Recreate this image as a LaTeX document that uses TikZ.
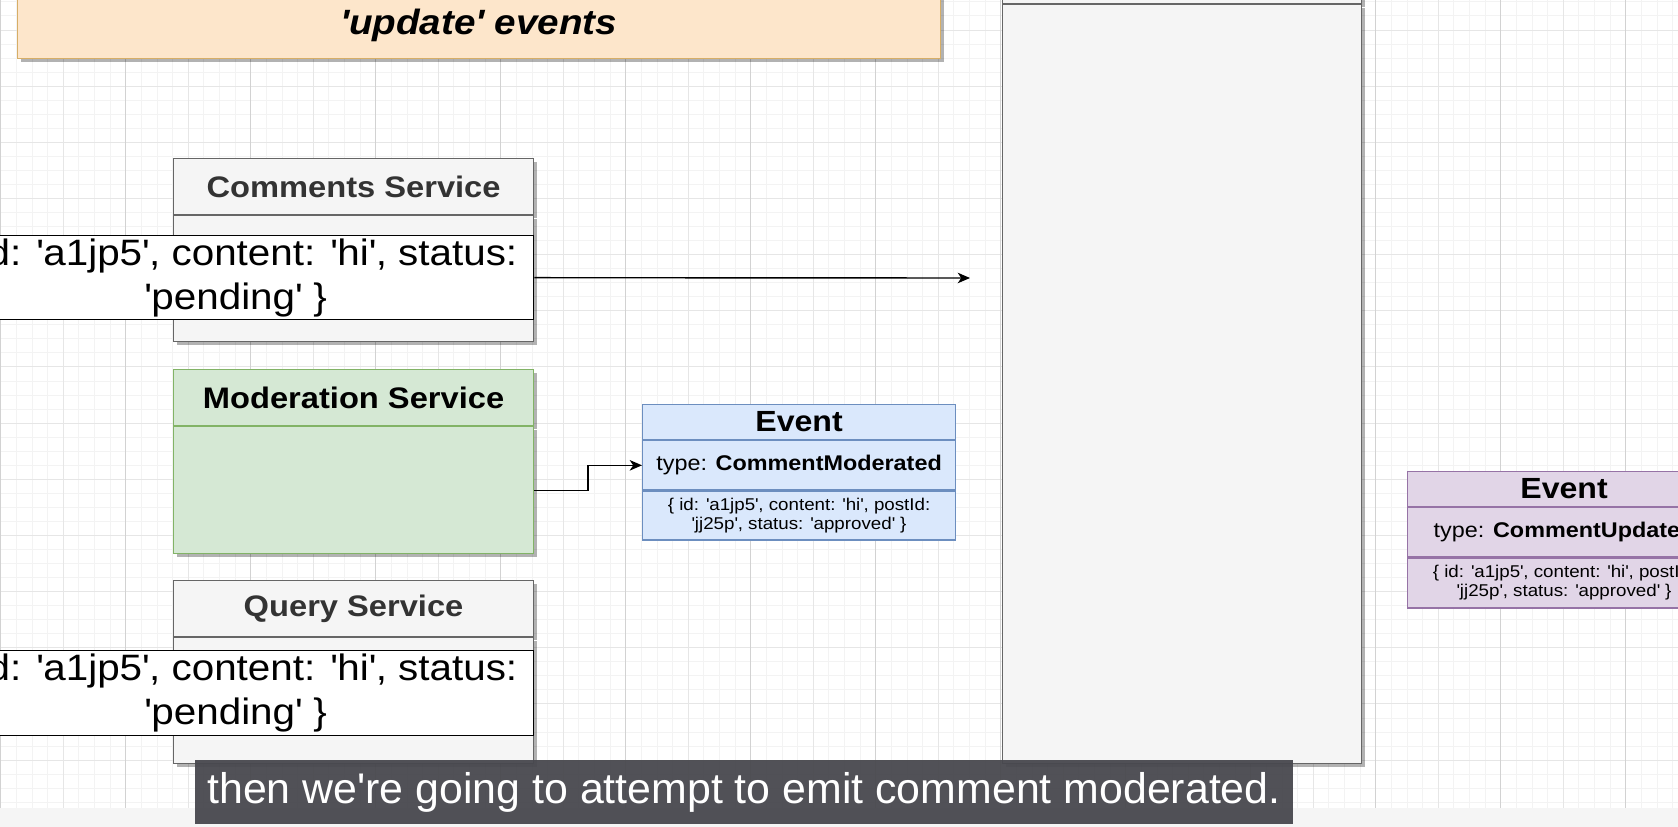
\documentclass[tikz,border=0pt]{standalone}
\usepackage{fontspec}
\setmainfont{Liberation Sans}[FakeStretch=1.1]
\newfontfamily\subfont{Liberation Sans}
\usetikzlibrary{arrows.meta,positioning,shadows}

\newcommand{\sqt}{\textquotesingle}

\definecolor{gridminor}{HTML}{F3F3F3}
\definecolor{gridmid}{HTML}{E6E6E6}
\definecolor{gridmajor}{HTML}{D2D2D2}
\definecolor{boxgray}{HTML}{F5F5F5}
\definecolor{linegray}{HTML}{666666}
\definecolor{textgray}{HTML}{333333}
\definecolor{boxgreen}{HTML}{D5E8D4}
\definecolor{linegreen}{HTML}{82B366}
\definecolor{boxblue}{HTML}{DAE8FC}
\definecolor{lineblue}{HTML}{6C8EBF}
\definecolor{boxpurple}{HTML}{E1D5E7}
\definecolor{linepurple}{HTML}{9673A6}
\definecolor{boxorange}{HTML}{FDE6CB}
\definecolor{lineorange}{HTML}{D7AE66}
\definecolor{capback}{HTML}{48484E}

\begin{document}
\begin{tikzpicture}[x=0.02cm, y=-0.02cm,
        softshadow/.style={drop shadow={shadow xshift=2pt, shadow yshift=-2pt, opacity=0.3, fill=black}},
        grayish/.style={fill=boxgray, draw=linegray, text=textgray},
        greenish/.style={fill=boxgreen, draw=linegreen},
        cell/.style={line width=0.7pt, inner sep=0pt, minimum width=7.2cm},
        servicehead/.style={cell, anchor=north west, minimum height=1.12cm,
            font=\fontsize{16.9}{20}\selectfont\bfseries},
        payload/.style={draw, fill=white, line width=0.8pt, inner sep=0pt, anchor=north west,
            minimum width=11.92cm, align=center, font=\fontsize{20.9}{25}\selectfont},
        evtitle/.style={draw=line#1, fill=box#1, line width=0.7pt, inner sep=0pt,
            minimum width=6.26cm, minimum height=0.7cm, font=\fontsize{16.6}{20}\selectfont\bfseries},
        evtype/.style={evtitle=#1, minimum height=0.98cm, font=\fontsize{12.1}{14}\selectfont},
        evbody/.style={evtitle=#1, align=center, font=\fontsize{9.7}{10.8}\selectfont},
        flow/.style={-{Stealth[length=7pt,width=6pt,inset=2pt]}, line width=0.8pt}
    ]

    \useasboundingbox (0,0) rectangle (1678,827);
    \clip (0,0) rectangle (1678,827);

    % canvas grid
    \fill[white] (0,0) rectangle (1678,827);
    \foreach \i in {0,...,107}
        \draw[gridminor, line width=0.5pt] ({0.7+15.625*\i},0) -- ({0.7+15.625*\i},808);
    \foreach \j in {0,...,58}
        \draw[gridminor, line width=0.5pt] (0,{1.9+14.04*\j}) -- (1678,{1.9+14.04*\j});
    \foreach \i in {0,...,26}
        \draw[gridmid, line width=0.5pt] ({0.7+62.5*\i},0) -- ({0.7+62.5*\i},808);
    \foreach \j in {0,...,13}
        \draw[gridmid, line width=0.5pt] (0,{30+56.15*\j}) -- (1678,{30+56.15*\j});
    \foreach \i in {0,...,13}
        \draw[gridmajor, line width=0.5pt] ({0.7+125*\i},0) -- ({0.7+125*\i},808);
    \fill[boxgray] (0,808) rectangle (1678,827);

    \node[draw=lineorange, fill=boxorange, line width=0.8pt, softshadow, anchor=south west,
        minimum width=18.46cm, minimum height=2cm] (titlebox) at (17,59) {};
    \node[font=\fontsize{20}{24}\selectfont\bfseries\itshape] (titletext) at (479,25) {\sqt update\sqt\ events};

    \node[cell, grayish, softshadow, anchor=north west, minimum width=7.18cm, minimum height=0.86cm] (bushead) at (1002,-40) {};
    \node[cell, grayish, softshadow, minimum width=7.18cm, minimum height=15.18cm, below=0pt of bushead] (bus) {};

    \node[servicehead, grayish, softshadow] (commentshead) at (173,158) {Comments Service};
    \node[cell, grayish, softshadow, minimum height=2.52cm, below=0pt of commentshead] (comments) {};
    \node[payload, minimum height=1.68cm] (commentsdata) at (-63,235)
        {\{ id: \sqt a1jp5\sqt, content: \sqt hi\sqt, status:\\ \sqt pending\sqt\ \}};

    \node[servicehead, greenish, softshadow] (moderationhead) at (173,369) {Moderation Service};
    \node[cell, greenish, softshadow, minimum height=2.54cm, below=0pt of moderationhead] (moderation) {};

    \node[servicehead, grayish, softshadow] (queryhead) at (173,580) {Query Service};
    \node[cell, grayish, softshadow, minimum height=2.52cm, below=0pt of queryhead] (query) {};
    \node[payload, minimum height=1.7cm] (querydata) at (-63,650)
        {\{ id: \sqt a1jp5\sqt, content: \sqt hi\sqt, status:\\ \sqt pending\sqt\ \}};

    \node[evtitle=blue, anchor=north west] (modtitle) at (642,404) {Event};
    \node[evtype=blue, below=0pt of modtitle] (modtype) {type: \textbf{CommentModerated}};
    \node[evbody=blue, minimum height=0.98cm, below=0pt of modtype] (modbody)
        {\{ id: \sqt a1jp5\sqt, content: \sqt hi\sqt, postId:\\ \sqt jj25p\sqt, status: \sqt approved\sqt\ \}};

    \node[evtitle=purple, anchor=north west] (updtitle) at (1407,471) {Event};
    \node[evtype=purple, below=0pt of updtitle] (updtype) {type: \textbf{CommentUpdated}};
    \node[evbody=purple, minimum height=1cm, below=0pt of updtype] (updbody)
        {\{ id: \sqt a1jp5\sqt, content: \sqt hi\sqt, postId:\\ \sqt jj25p\sqt, status: \sqt approved\sqt\ \}};

    \coordinate (busin) at (970,278);
    \draw[flow] (commentsdata.east) -- (busin);
    \draw[flow] (moderation.east) -- ++(54,0) |- (modtype.west);

    \node[fill=capback, fill opacity=0.95, text opacity=1, text=white, inner sep=0pt,
        minimum width=21.96cm, minimum height=1.28cm, font=\subfont\fontsize{24.4}{28}\selectfont] (caption)
        at (744,792) {then we\sqt re going to attempt to emit comment moderated.};

\end{tikzpicture}
\end{document}
